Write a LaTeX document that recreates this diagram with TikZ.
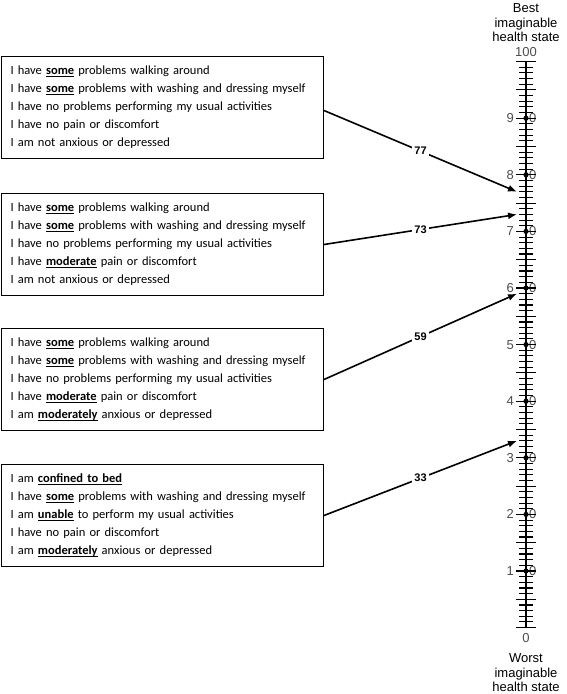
\documentclass[tikz,border=0pt]{standalone}
\usepackage{fontspec}
\setmainfont{Carlito}
\newfontfamily\scalefont{Liberation Sans}
\usetikzlibrary{arrows.meta}
\newcommand{\ubf}[1]{\underline{\smash{\textbf{#1}}}}

\begin{document}
\begin{tikzpicture}[
            x=1pt, y=-1pt,
            declare function={
                vas(\v) = 627.6 - 5.66*\v;
            },
            statebox/.style={draw, line width=1pt, anchor=north west,
                minimum width=322pt, minimum height=102pt,
                inner xsep=9pt, inner ysep=0pt, text width=304pt, align=left,
                font=\fontsize{12.5}{18}\selectfont},
            valarrow/.style={line width=1.6pt, -{Latex[length=9pt,width=7pt]}},
            vallabel/.style={fill=white, inner sep=2pt, font=\scalefont\bfseries\fontsize{11}{13}\selectfont},
            scalenum/.style={text=black!70, inner sep=0pt, font=\scalefont\fontsize{13}{15}\selectfont},
            scaletitle/.style={align=center, inner sep=0pt, font=\scalefont\fontsize{13}{14.5}\selectfont}
        ]
            \useasboundingbox (0,0) rectangle (567,694);

            % health states
            \node[statebox] (s77) at (1,56) {I have \ubf{some} problems walking around\\
                I have \ubf{some} problems with washing and dressing myself\\
                I have no problems performing my usual activities\\
                I have no pain or discomfort\\
                I am not anxious or depressed};
            \node[statebox] (s73) at (1,193) {I have \ubf{some} problems walking around\\
                I have \ubf{some} problems with washing and dressing myself\\
                I have no problems performing my usual activities\\
                I have \ubf{moderate} pain or discomfort\\
                I am not anxious or depressed};
            \node[statebox] (s59) at (1,328) {I have \ubf{some} problems walking around\\
                I have \ubf{some} problems with washing and dressing myself\\
                I have no problems performing my usual activities\\
                I have \ubf{moderate} pain or discomfort\\
                I am \ubf{moderately} anxious or depressed};
            \node[statebox] (s33) at (1,464) {I am \ubf{confined to bed}\\
                I have \ubf{some} problems with washing and dressing myself\\
                I am \ubf{unable} to perform my usual activities\\
                I have no pain or discomfort\\
                I am \ubf{moderately} anxious or depressed};

            % thermometer labels
            \node[scaletitle] (best) at (526,23) {Best\\imaginable\\health state};
            \node[scalenum] (top) at (526,52) {100};
            \node[scalenum] (bottom) at (526,638) {0};
            \node[scaletitle] (worst) at (526,673) {Worst\\imaginable\\health state};
            \foreach \d in {1,...,9} {
                \node[scalenum, anchor=east] (l\d) at (514,{vas(10*\d)}) {\d};
                \node[scalenum, anchor=west] (r\d) at (529,{vas(10*\d)}) {0};
            }

            % thermometer
            \draw[line width=1.3pt] (526,{vas(0)}) -- (526,{vas(100)});
            \foreach \v in {0,...,100} {
                \pgfmathsetmacro{\tw}{mod(\v,5)==0 ? 10 : 7}
                \draw[line width=1.1pt] ({526-\tw},{vas(\v)}) -- ({526+\tw},{vas(\v)});
            }
            \foreach \d in {1,...,9}
                \fill (526,{vas(10*\d)}) circle (2.6pt);

            % values
            \foreach \v in {77,73,59,33}
                \coordinate (v\v) at (517,{vas(\v)});
            \draw[valarrow] ([yshift=-3pt]s77.east) -- node[vallabel] {77} (v77);
            \draw[valarrow] (s73.east) -- node[vallabel] {73} (v73);
            \draw[valarrow] (s59.east) -- node[vallabel] {59} (v59);
            \draw[valarrow] (s33.east) -- node[vallabel] {33} (v33);
        \end{tikzpicture}
\end{document}
